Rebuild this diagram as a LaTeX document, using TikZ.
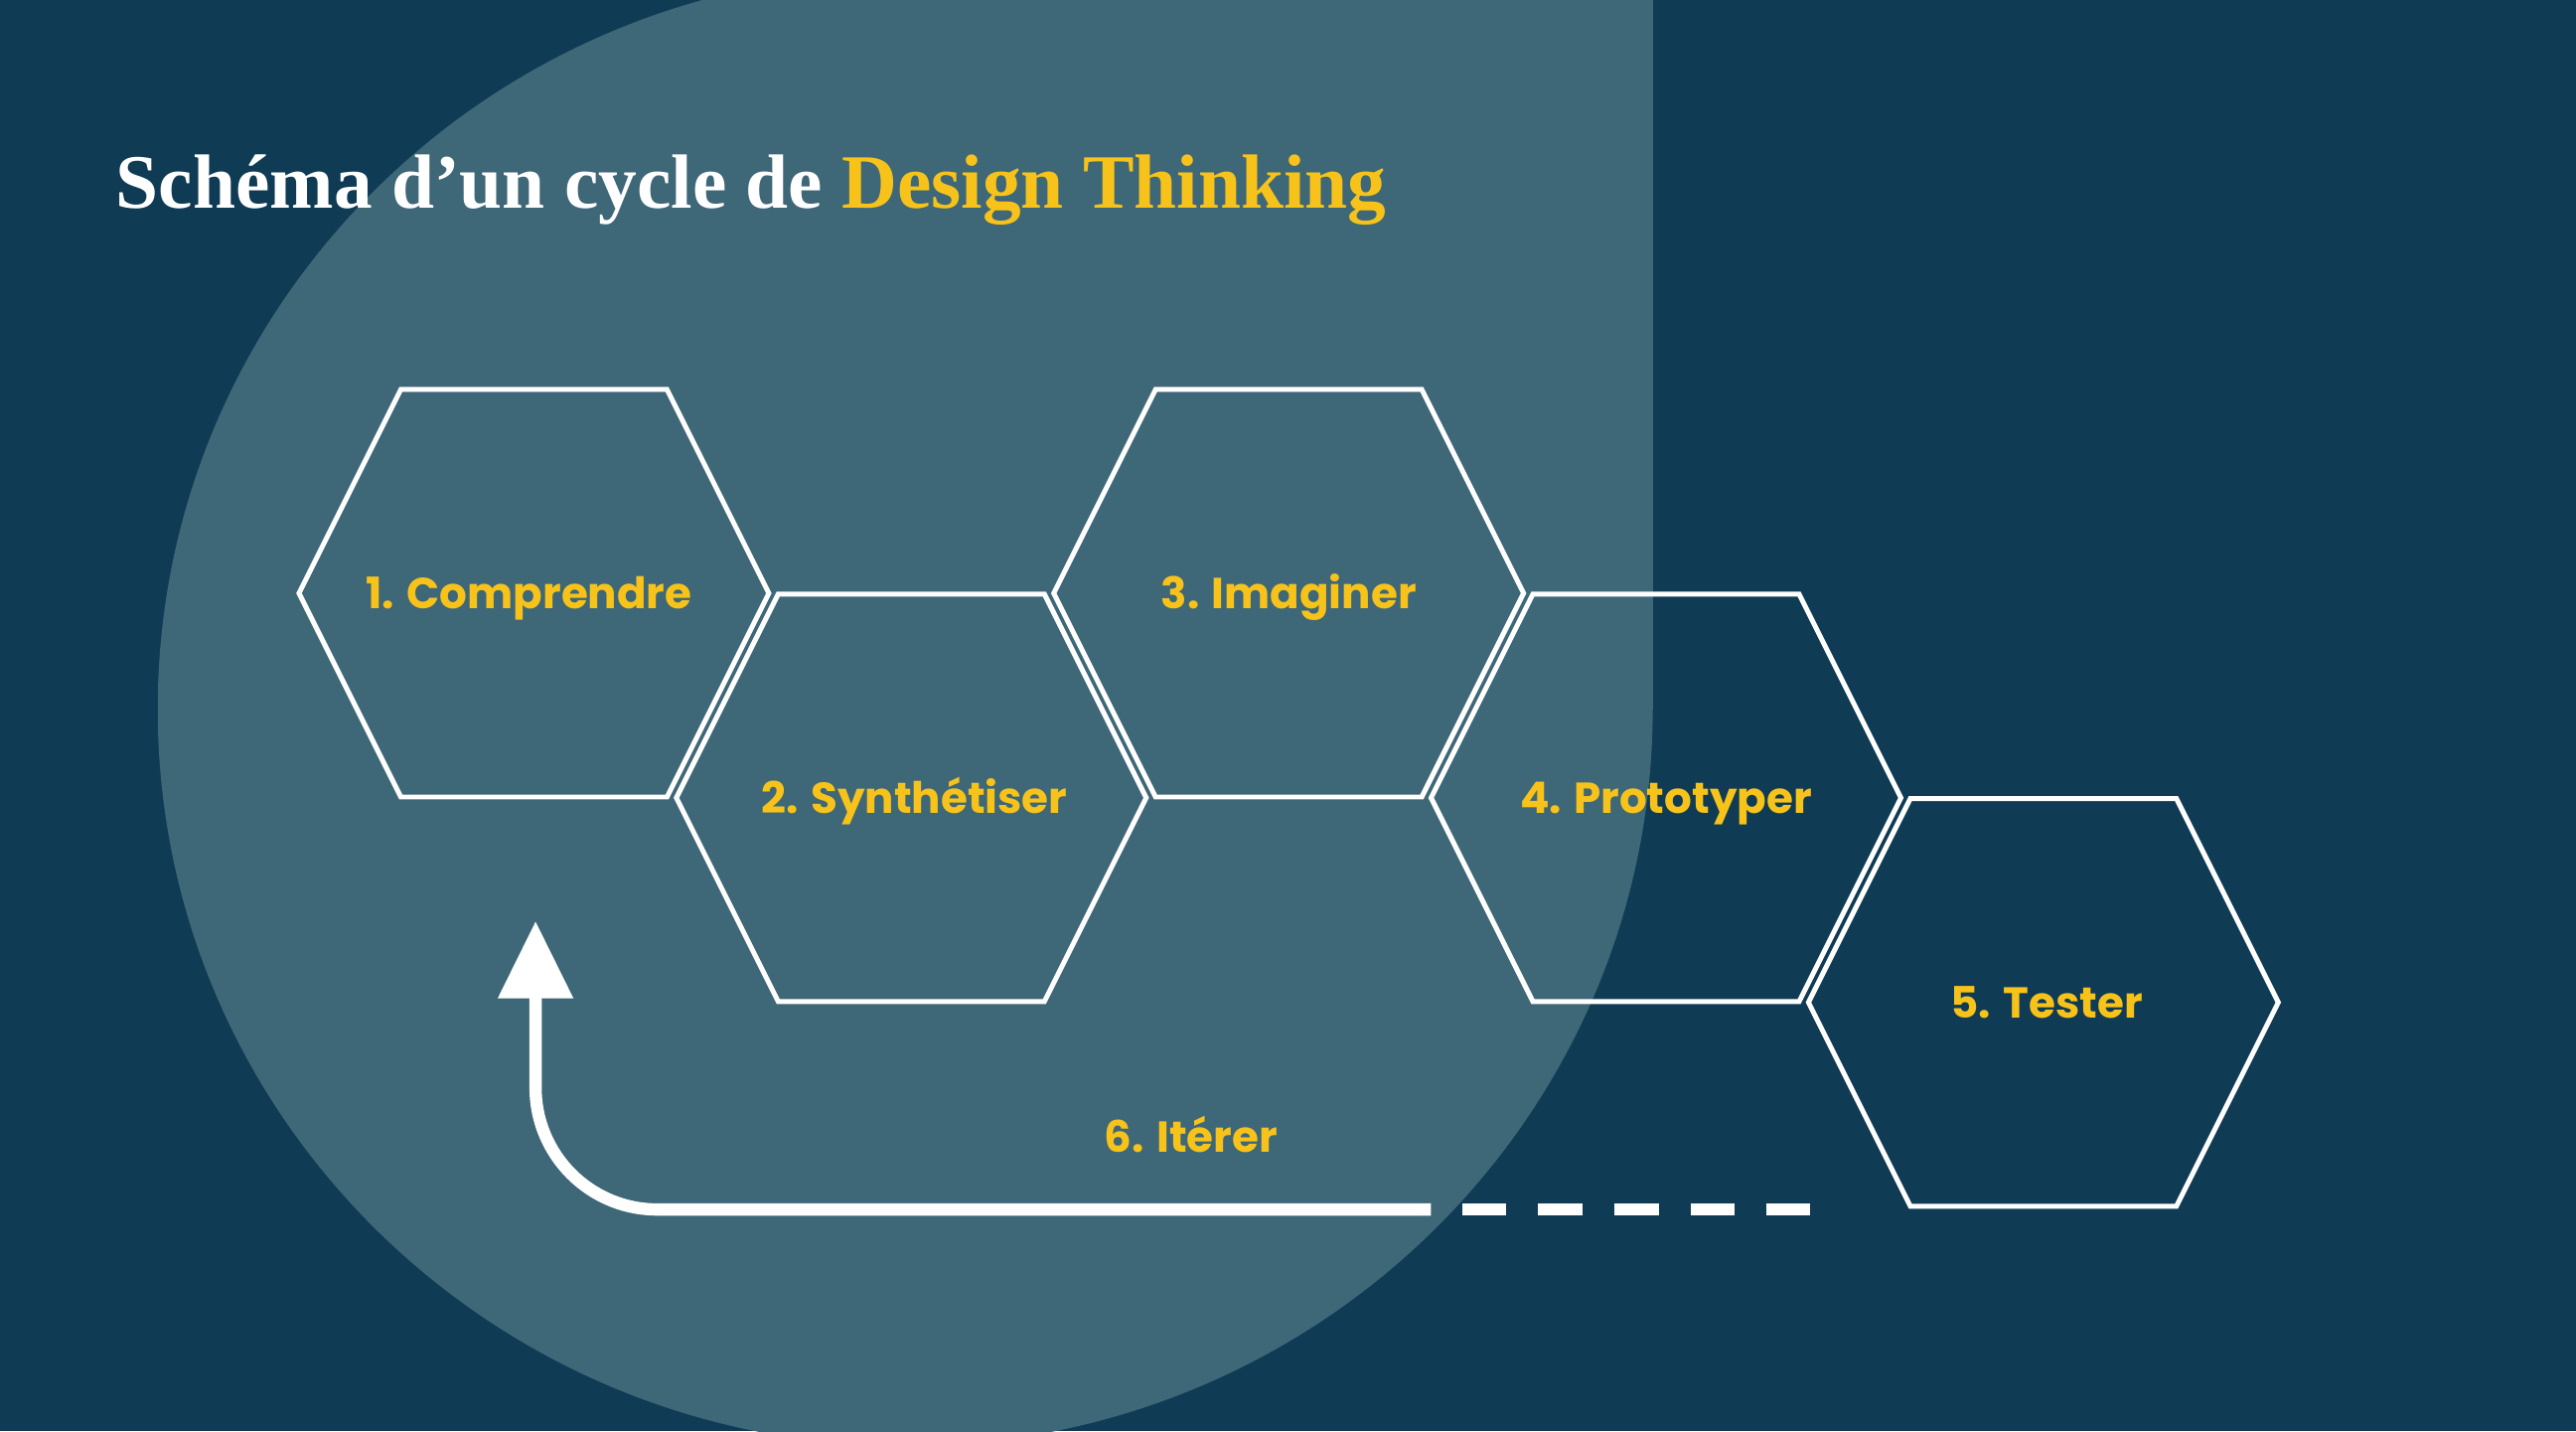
\documentclass[tikz,border=0pt]{standalone}
\usepackage{fontspec}
\usetikzlibrary{arrows.meta}
\newfontfamily\popfont{Poppins}[BoldFont={* Bold}]
\newfontfamily\titlefont{Liberation Serif}
\definecolor{bgdark}{HTML}{0F3B54}
\definecolor{bglight}{HTML}{3E6778}
\definecolor{accent}{HTML}{F7C31A}
\begin{document}
\begin{tikzpicture}[x=0.01cm,y=-0.01cm,
  hexline/.style={draw=white,line width=0.85pt,line join=miter},
  steplabel/.style={font=\popfont\bfseries\fontsize{7.5}{9}\selectfont,text=accent,inner sep=0pt,anchor=base},
  loopline/.style={draw=white,line width=2.13pt}]
\fill[bgdark] (0,0) rectangle (1568,871);
\useasboundingbox (0,0) rectangle (1568,871);
\begin{scope}
  \clip (0,0) rectangle (1568,871);
  \fill[bglight] (551,431.6) ellipse [x radius=455, y radius=448.3];
  \fill[bglight] (551,-10) rectangle (1006,431.6);
\end{scope}
% title
\node[anchor=base west,inner sep=0pt,text=white,font=\titlefont\bfseries\fontsize{13.3}{15}\selectfont] (title) at (70,127) {Schéma d’un cycle de \textcolor{accent}{Design Thinking}};
% hexagon centres
\coordinate (c1) at (325,361);
\coordinate (c2) at (554.7,485.5);
\coordinate (c3) at (784.4,361);
\coordinate (c4) at (1014.1,485.5);
\coordinate (c5) at (1243.8,610);
\foreach \i in {1,...,5}{
  \draw[hexline] ([shift={(-143,0)}]c\i) -- ++(62,-124) -- ++(162,0) -- ++(62,124) -- ++(-62,124) -- ++(-162,0) -- cycle;
}
\node[steplabel] (h1) at ([shift={(-3,9.5)}]c1) {1. Comprendre};
\node[steplabel] (h2) at ([shift={(2,9.5)}]c2) {2. Synthétiser};
\node[steplabel] (h3) at ([shift={(0,9.5)}]c3) {3. Imaginer};
\node[steplabel] (h4) at ([shift={(0,9.5)}]c4) {4. Prototyper};
\node[steplabel] (h5) at ([shift={(2,9.5)}]c5) {5. Tester};
% iteration loop
\coordinate (dashend) at (1102,736);
\coordinate (dashstart) at (890,736);
\coordinate (loopstart) at (871,736);
\coordinate (loopcorner) at (326,736);
\coordinate (looptip) at (326,560.5);
\draw[loopline,dash pattern=on 0.27cm off 0.193cm] (dashstart) -- (dashend);
\draw[loopline,rounded corners=0.74cm,-{Triangle[width=0.44cm,length=0.47cm]}] (loopstart) -- (loopcorner) -- (looptip);
\node[steplabel] (iter) at (725,701) {6. Itérer};
\end{tikzpicture}
\end{document}
